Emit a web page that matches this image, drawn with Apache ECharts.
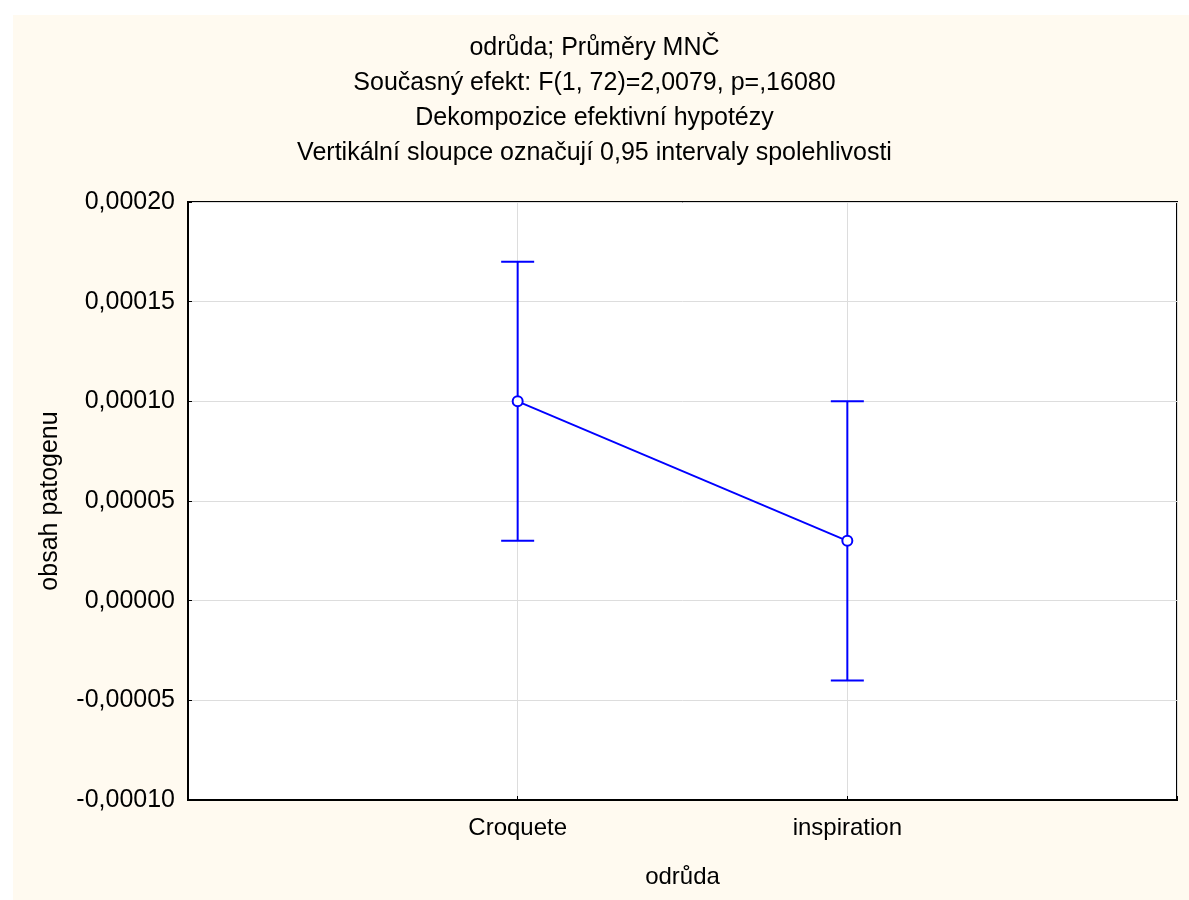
<!DOCTYPE html>
<html>
<head>
<meta charset="utf-8">
<script src="https://cdn.jsdelivr.net/npm/echarts@6/dist/echarts.min.js"></script>
<style>
  html, body { margin: 0; padding: 0; background: #ffffff; }
  #frame { position: absolute; left: 13px; top: 15px; width: 1176px; height: 885px; background: #fffaf0; }
  #chart { position: absolute; left: 0; top: 0; width: 1189px; height: 900px; }
</style>
</head>
<body>
<div id="frame"></div>
<div id="chart"></div>
<script>
// Groups (odrůda) and their least-squares means with 0.95 confidence limits
const categories = ['Croquete', 'inspiration'];
const means = [0.00010, 0.00003];
const lowerCI = [0.00003, -0.00004];
const upperCI = [0.00017, 0.00010];

const titleLines = [
  'odrůda; Průměry MNČ',
  'Současný efekt: F(1, 72)=2,0079, p=,16080',
  'Dekompozice efektivní hypotézy',
  'Vertikální sloupce označují 0,95 intervaly spolehlivosti'
];

const FONT = '"Liberation Sans", Arial, sans-serif';
const BLUE = '#0000ff';

// categories sit at x = 1, 2 on a 0..3 scale
const meanPts = means.map((m, i) => [i + 1, m]);
const ciPts = categories.map((c, i) => [i + 1, lowerCI[i], upperCI[i]]);

function fmt(v) {
  const s = Math.abs(v).toFixed(5).replace('.', ',');
  return (v < -1e-12 ? '-' : '') + s;
}

const chart = echarts.init(document.getElementById('chart'), null, { renderer: 'canvas' });
chart.setOption({
  backgroundColor: 'transparent',
  animation: false,
  title: titleLines.map((t, i) => ({
    text: t,
    left: 'center',
    top: 31 + i * 35,
    textStyle: { fontFamily: FONT, fontSize: 25, fontWeight: 'normal', color: '#000' }
  })),
  grid: {
    left: 188, right: 12, top: 202, bottom: 100,
    show: true, backgroundColor: '#ffffff', borderColor: '#000', borderWidth: 2
  },
  xAxis: {
    type: 'value', min: 0, max: 3, interval: 1,
    name: 'odrůda', nameLocation: 'middle', nameGap: 65,
    nameTextStyle: { fontFamily: FONT, fontSize: 24, color: '#000' },
    axisLine: { show: true, onZero: false, lineStyle: { color: '#000', width: 2 } },
    axisTick: { show: true, inside: true, length: 4, lineStyle: { color: '#000' } },
    axisLabel: {
      fontFamily: FONT, fontSize: 24, color: '#000', margin: 16,
      formatter: v => categories[v - 1] || ''
    },
    splitLine: { show: true, lineStyle: { color: '#dddddd', width: 1 } }
  },
  yAxis: {
    type: 'value', min: -0.0001, max: 0.0002, interval: 0.00005,
    name: 'obsah patogenu', nameLocation: 'middle', nameGap: 125,
    nameTextStyle: { fontFamily: FONT, fontSize: 25, color: '#000' },
    axisLine: { show: true, onZero: false, lineStyle: { color: '#000', width: 2 } },
    axisTick: { show: true, inside: true, length: 4, lineStyle: { color: '#000' } },
    axisLabel: { fontFamily: FONT, fontSize: 25, color: '#000', margin: 13, formatter: fmt },
    splitLine: { show: true, lineStyle: { color: '#dddddd', width: 1 } }
  },
  series: [
    {
      type: 'custom',
      data: ciPts,
      z: 3,
      renderItem: function (params, api) {
        const x = api.value(0);
        const lo = api.coord([x, api.value(1)]);
        const hi = api.coord([x, api.value(2)]);
        const hw = 16.5;
        const style = { stroke: BLUE, lineWidth: 2 };
        return {
          type: 'group',
          children: [
            { type: 'line', shape: { x1: lo[0], y1: lo[1], x2: hi[0], y2: hi[1] }, style: style },
            { type: 'line', shape: { x1: lo[0] - hw, y1: lo[1], x2: lo[0] + hw, y2: lo[1] }, style: style },
            { type: 'line', shape: { x1: hi[0] - hw, y1: hi[1], x2: hi[0] + hw, y2: hi[1] }, style: style }
          ]
        };
      }
    },
    {
      type: 'line',
      data: meanPts,
      z: 4,
      symbol: 'emptyCircle',
      symbolSize: 10,
      lineStyle: { color: BLUE, width: 1.8 },
      itemStyle: { color: BLUE, borderColor: BLUE, borderWidth: 1.8 }
    }
  ]
});
</script>
</body>
</html>
